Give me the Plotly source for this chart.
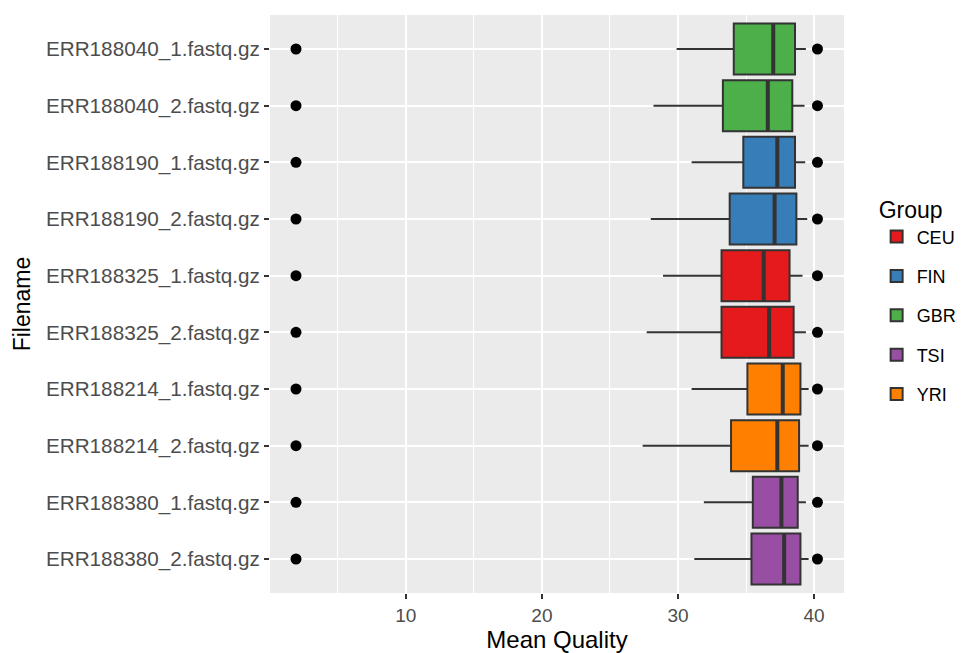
import plotly.graph_objects as go

files = ["ERR188040_1.fastq.gz", "ERR188040_2.fastq.gz", "ERR188190_1.fastq.gz",
         "ERR188190_2.fastq.gz", "ERR188325_1.fastq.gz", "ERR188325_2.fastq.gz",
         "ERR188214_1.fastq.gz", "ERR188214_2.fastq.gz", "ERR188380_1.fastq.gz",
         "ERR188380_2.fastq.gz"]
groups = ["GBR", "GBR", "FIN", "FIN", "CEU", "CEU", "YRI", "YRI", "TSI", "TSI"]
lower = [29.9, 28.2, 31.0, 28.0, 28.9, 27.7, 31.0, 27.4, 31.9, 31.2]
q1 = [34.1, 33.3, 34.8, 33.8, 33.2, 33.2, 35.1, 33.9, 35.5, 35.4]
med = [37.0, 36.6, 37.3, 37.1, 36.3, 36.7, 37.7, 37.3, 37.6, 37.8]
q3 = [38.6, 38.4, 38.6, 38.7, 38.2, 38.5, 39.0, 38.9, 38.8, 39.0]
upper = [39.4, 39.3, 39.35, 39.5, 39.15, 39.4, 39.6, 39.6, 39.4, 39.6]
out_low = [1.93, 1.93, 1.93, 1.93, 1.93, 1.93, 1.93, 1.93, 1.93, 1.93]
out_high = [40.25, 40.25, 40.25, 40.25, 40.25, 40.25, 40.25, 40.25, 40.25, 40.25]

group_order = ["CEU", "FIN", "GBR", "TSI", "YRI"]
colors = {"CEU": "#E41A1C", "FIN": "#377EB8", "GBR": "#4DAF4A",
          "TSI": "#984EA3", "YRI": "#FF7F00"}

BOX_W = 0.9
EDGE = "#333333"
pos = list(range(len(files)))

fig = go.Figure()
for g in group_order:
    idx = [i for i, gg in enumerate(groups) if gg == g]
    fig.add_trace(go.Box(
        name=g, orientation="h", legendgroup=g,
        y=[pos[i] for i in idx],
        q1=[q1[i] for i in idx], median=[med[i] for i in idx],
        q3=[q3[i] for i in idx], lowerfence=[lower[i] for i in idx],
        upperfence=[upper[i] for i in idx],
        width=BOX_W, whiskerwidth=0,
        fillcolor=colors[g], line=dict(color=EDGE, width=2),
        boxpoints=False, showlegend=True,
    ))

# thick median lines (ggplot fatten)
mx, my = [], []
for i in pos:
    mx += [med[i], med[i], None]
    my += [i - BOX_W / 2, i + BOX_W / 2, None]
fig.add_trace(go.Scatter(x=mx, y=my, mode="lines", line=dict(color=EDGE, width=4),
                         showlegend=False, hoverinfo="skip"))

# outliers
fig.add_trace(go.Scatter(x=out_low + out_high, y=pos + pos, mode="markers",
                         marker=dict(color="black", size=11),
                         showlegend=False))

fig.update_layout(
    width=973, height=653,
    margin=dict(l=270, r=128, t=15, b=60),
    paper_bgcolor="white", plot_bgcolor="#EBEBEB",
    font=dict(family="Liberation Sans, Arial, sans-serif", color="black"),
    boxmode="overlay",
    legend=dict(title=dict(text="Group", font=dict(size=23)),
                font=dict(size=18), x=1.055, xanchor="left", y=0.70, yanchor="top",
                tracegroupgap=13, bgcolor="rgba(0,0,0,0)"),
    xaxis=dict(range=[0.02, 42.2], tickvals=[10, 20, 30, 40], automargin=False,
               showgrid=True, gridcolor="white", gridwidth=1.5,
               ticks="outside", ticklen=5, tickcolor=EDGE, tickwidth=1.5,
               tickfont=dict(size=19, color="#4D4D4D"),
               minor=dict(tickvals=[5, 15, 25, 35], showgrid=True,
                          gridcolor="white", gridwidth=0.7, ticks=""),
               zeroline=False, showline=False,
               title=dict(text="Mean Quality", font=dict(size=24), standoff=12)),
    yaxis=dict(range=[9.6, -0.6], tickvals=pos, ticktext=files, automargin=False,
               showgrid=True, gridcolor="white", gridwidth=1.5,
               ticks="outside", ticklen=5, tickcolor=EDGE, tickwidth=1.5,
               tickfont=dict(size=20.7, color="#4D4D4D"),
               zeroline=False, showline=False,
               title=dict(text="Filename", font=dict(size=23), standoff=8)),
)

fig.write_html("out.html")
